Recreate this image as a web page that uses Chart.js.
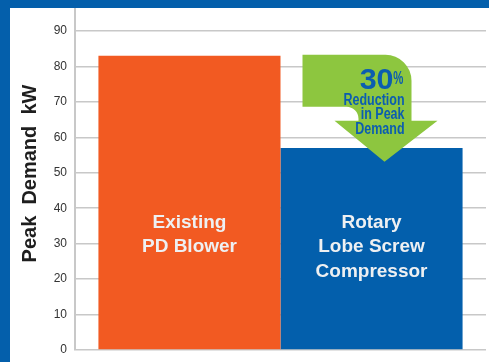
<!DOCTYPE html>
<html>
<head>
<meta charset="utf-8">
<script src="https://cdn.jsdelivr.net/npm/chart.js@4.4.1/dist/chart.umd.min.js"></script>
<style>
  html, body { margin: 0; padding: 0; }
  body { width: 489px; height: 362px; background: #045fab; overflow: hidden; position: relative; }
  .panel { position: absolute; left: 10px; top: 8px; width: 479px; height: 354px; background: #fff; }
</style>
</head>
<body>
<div class="panel"><canvas id="chart" width="479" height="354"></canvas></div>
<script>
// Data
const categories = ['Existing PD Blower', 'Rotary Lobe Screw Compressor'];
const barLines = [['Existing', 'PD Blower'], ['Rotary', 'Lobe Screw', 'Compressor']];
const peakDemand = [83, 57];
const barColors = ['#f25a22', '#035fac'];
const yTicks = [0, 10, 20, 30, 40, 50, 60, 70, 80, 90];
const axisTitle = 'Peak  Demand  kW';
const calloutPct = '30';
const calloutUnit = '%';
const calloutLines = ['Reduction', 'in Peak', 'Demand'];

const FONT = '"Liberation Sans", Arial, Helvetica, sans-serif';
const labelTopValue = 36;   // first line of the in-bar labels

// draws title, labels inside bars and the green callout arrow
const overlay = {
    id: 'overlay',
    afterDatasetsDraw(chart) {
        const ctx = chart.ctx;
        const y = chart.scales.y;
        const area = chart.chartArea;

        // axis line runs up to the top of the panel
        ctx.save();
        ctx.strokeStyle = '#c8c8c8';
        ctx.lineWidth = 2;
        ctx.beginPath();
        ctx.moveTo(area.left, 0);
        ctx.lineTo(area.left, area.top);
        ctx.stroke();
        ctx.restore();

        // y title
        ctx.save();
        ctx.translate(20, (area.top + area.bottom) / 2 - 17);
        ctx.rotate(-Math.PI / 2);
        ctx.font = 'bold 20px ' + FONT;
        ctx.fillStyle = '#1e1e1e';
        ctx.textAlign = 'center';
        ctx.textBaseline = 'middle';
        ctx.fillText(axisTitle, 0, 0);
        ctx.restore();

        // labels inside the bars
        chart.data.datasets.forEach((ds, i) => {
            const bar = chart.getDatasetMeta(i).data[0];
            ctx.save();
            ctx.fillStyle = '#eef0f2';
            ctx.font = 'bold 19px ' + FONT;
            ctx.textAlign = 'center';
            ctx.textBaseline = 'middle';
            barLines[i].forEach((t, k) => {
                ctx.fillText(t, bar.x, y.getPixelForValue(labelTopValue) + k * 24.5);
            });
            ctx.restore();
        });

        // green arrow from the old peak down onto the new bar
        const blue = chart.getDatasetMeta(1).data[0];
        const bx = blue.x - blue.width / 2;
        const ay = y.getPixelForValue(peakDemand[0]) - 1;

        ctx.save();
        ctx.fillStyle = '#8dc63f';
        ctx.beginPath();
        ctx.moveTo(bx + 22, ay);
        ctx.arcTo(bx + 131, ay, bx + 131, ay + 66, 26);
        ctx.lineTo(bx + 131, ay + 66);
        ctx.lineTo(bx + 157, ay + 66);
        ctx.lineTo(bx + 104, ay + 107);
        ctx.lineTo(bx + 54, ay + 66);
        ctx.lineTo(bx + 78, ay + 66);
        ctx.arcTo(bx + 78, ay + 52, bx + 22, ay + 52, 12);
        ctx.lineTo(bx + 22, ay + 52);
        ctx.closePath();
        ctx.fill();

        ctx.fillStyle = '#0b5db0';
        ctx.textAlign = 'right';
        ctx.textBaseline = 'alphabetic';
        const squeeze = (text, x, yy, font, sx) => {
            ctx.save();
            ctx.translate(x, yy);
            ctx.scale(sx, 1);
            ctx.font = font;
            ctx.fillText(text, 0, 0);
            ctx.restore();
        };
        squeeze(calloutPct, bx + 113, ay + 34, 'bold 29px ' + FONT, 1.05);
        squeeze(calloutUnit, bx + 123, ay + 29, 'bold 19px ' + FONT, 0.6);
        [50, 64.5, 79].forEach((dy, k) => {
            squeeze(calloutLines[k], bx + 124, ay + dy, 'bold 16px ' + FONT, 0.78);
        });
        ctx.restore();
    }
};

const ctx = document.getElementById('chart').getContext('2d');
new Chart(ctx, {
    type: 'bar',
    data: {
        labels: [''],
        datasets: categories.map((c, i) => ({
            label: c,
            data: [peakDemand[i]],
            backgroundColor: barColors[i],
            borderWidth: 0
        }))
    },
    options: {
        responsive: false,
        animation: false,
        devicePixelRatio: 1,
        layout: { padding: { top: 23, right: 3, bottom: 12, left: 0 } },
        datasets: { bar: { categoryPercentage: 0.886, barPercentage: 1 } },
        plugins: {
            legend: { display: false },
            tooltip: { enabled: false }
        },
        scales: {
            x: { display: false },
            y: {
                min: 0,
                max: 90,
                afterBuildTicks: (scale) => { scale.ticks = yTicks.map(v => ({ value: v })); },
                afterFit: (scale) => {
                    scale.width = 65;
                    scale.paddingTop = 4;
                    scale.paddingBottom = 4;
                },
                ticks: {
                    padding: 8,
                    color: '#333',
                    font: { size: 12, family: FONT }
                },
                grid: { color: '#c8c8c8', lineWidth: 1.5, drawTicks: false },
                border: { display: true, color: '#c8c8c8', width: 2 }
            }
        }
    },
    plugins: [overlay]
});
</script>
</body>
</html>
